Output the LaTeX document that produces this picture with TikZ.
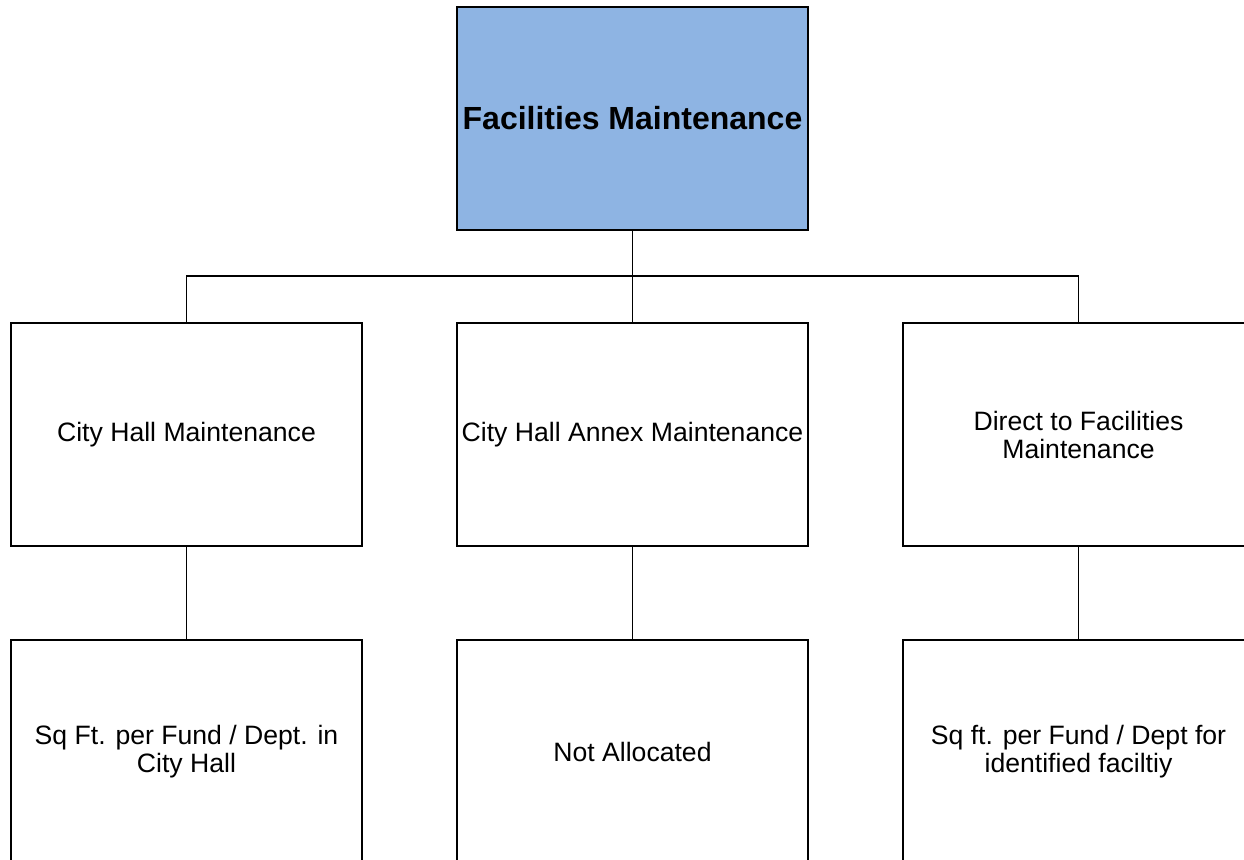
\documentclass[tikz,border=0pt]{standalone}
\usepackage{fontspec}
\setmainfont{Liberation Sans}
\definecolor{boxblue}{RGB}{142,180,227}
\begin{document}
\begin{tikzpicture}[x=1pt,y=-1pt,
  orgbox/.style={draw=black,line width=1.5pt,minimum width=351pt,minimum height=223pt,inner sep=0pt,align=center,font=\fontsize{26.6}{28}\selectfont},
  link/.style={draw=black,line width=1.5pt}]
\useasboundingbox (0,0) rectangle (1244,859);
\clip (0,0) rectangle (1244,859);
\node[orgbox,fill=boxblue,font=\fontsize{32}{34}\selectfont\bfseries] (top) at (632.5,118.5) {Facilities Maintenance};
\node[orgbox] (ch) at (186.5,434.5) {City Hall Maintenance};
\node[orgbox] (ann) at (632.5,434.5) {City Hall Annex Maintenance};
\node[orgbox] (dir) at (1078.5,434.5) {Direct to Facilities\\Maintenance};
\node[orgbox] (sq1) at (186.5,751.5) {Sq Ft. per Fund / Dept. in\\City Hall};
\node[orgbox] (na) at (632.5,751.5) {Not Allocated};
\node[orgbox] (sq2) at (1078.5,751.5) {Sq ft. per Fund / Dept for\\identified faciltiy};
\coordinate (j) at (632.5,276);
\draw[link] (top.south) -- (ann.north);
\draw[link] (ch.north) -- (ch.north |- j) -- (dir.north |- j) -- (dir.north);
\draw[link] (ch.south) -- (sq1.north);
\draw[link] (ann.south) -- (na.north);
\draw[link] (dir.south) -- (sq2.north);
\end{tikzpicture}
\end{document}
